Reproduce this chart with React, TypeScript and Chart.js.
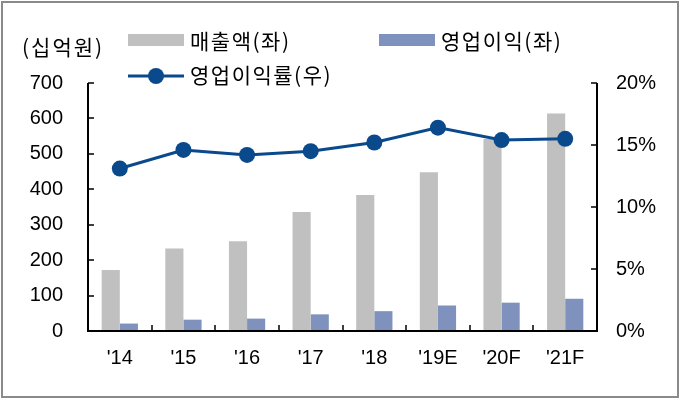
import React, { useEffect, useRef } from 'react';
import { Chart, registerables } from 'chart.js';

Chart.register(...registerables);

const categories = ["'14", "'15", "'16", "'17", "'18", "'19E", "'20F", "'21F"];
const salesValues = [172, 233, 253, 336, 384, 448, 542, 614];
const opProfitValues = [21, 32, 35, 47, 56, 72, 80, 91];
const opMarginValues = [13.1, 14.6, 14.2, 14.5, 15.2, 16.4, 15.4, 15.5];
const seriesLabels = ['매출액(좌)', '영업이익(좌)', '영업이익률(우)'];
const unitLabel = '(십억원)';
const leftAxisMax = 700;
const leftAxisStep = 100;
const rightAxisMax = 20;
const rightAxisStep = 5;

const GRAY = '#C0C0C0';
const BLUE = '#7F92BD';
const NAVY = '#0A4A8C';
const NUM_FONT = '"Liberation Sans Narrow", "Arial Narrow", "Liberation Sans", Arial, sans-serif';
const KR_FONT = '"Noto Sans CJK KR", "Noto Sans", sans-serif';

const decorPlugin = {
  id: 'decor',
  afterDraw(chart: any) {
    const ctx = chart.ctx;
    const { left, right, top, bottom } = chart.chartArea;
    const x = chart.scales.x;
    const y = chart.scales.y;
    const y1 = chart.scales.y1;
    ctx.save();
    ctx.strokeStyle = '#000';
    ctx.lineWidth = 2;
    ctx.beginPath();
    ctx.moveTo(left, top);
    ctx.lineTo(left, bottom);
    ctx.lineTo(right, bottom);
    ctx.lineTo(right, top);
    ctx.stroke();
    ctx.lineWidth = 1.5;
    ctx.beginPath();
    y.ticks.forEach((t: any) => {
      const py = Math.round(y.getPixelForValue(t.value));
      ctx.moveTo(left, py);
      ctx.lineTo(left + 6, py);
    });
    y1.ticks.forEach((t: any) => {
      const py = Math.round(y1.getPixelForValue(t.value));
      ctx.moveTo(right, py);
      ctx.lineTo(right - 6, py);
    });
    for (let i = 1; i < categories.length; i++) {
      const px = Math.round((x.getPixelForValue(i - 1) + x.getPixelForValue(i)) / 2);
      ctx.moveTo(px, bottom);
      ctx.lineTo(px, bottom - 6);
    }
    ctx.stroke();

    // unit label
    ctx.fillStyle = '#000';
    ctx.textBaseline = 'middle';
    ctx.textAlign = 'left';
    ctx.font = `21px ${KR_FONT}`;
    (ctx as any).letterSpacing = '2px';
    ctx.fillText(unitLabel, 22, 47);

    // legend
    const ds = chart.data.datasets;
    ctx.fillStyle = ds[0].backgroundColor;
    ctx.fillRect(128, 34, 56, 12);
    ctx.fillStyle = ds[1].backgroundColor;
    ctx.fillRect(379, 34, 56, 12);
    ctx.strokeStyle = ds[2].borderColor;
    ctx.lineWidth = 3;
    ctx.beginPath();
    ctx.moveTo(128, 76);
    ctx.lineTo(184, 76);
    ctx.stroke();
    ctx.fillStyle = ds[2].backgroundColor;
    ctx.beginPath();
    ctx.arc(156, 76, 8, 0, Math.PI * 2);
    ctx.fill();
    ctx.fillStyle = '#000';
    (ctx as any).letterSpacing = '1.5px';
    ctx.fillText(ds[0].label, 190, 41);
    ctx.fillText(ds[1].label, 441, 41);
    ctx.fillText(ds[2].label, 190, 75);
    (ctx as any).letterSpacing = '0px';

    // frame
    ctx.strokeStyle = '#8A8A8A';
    ctx.lineWidth = 2;
    ctx.strokeRect(2, 2, 676, 395);
    ctx.restore();
  },
};

export default function App() {
  const ref = useRef<HTMLCanvasElement>(null);
  useEffect(() => {
    if (!ref.current) return;
    const chart = new Chart(ref.current, {
      type: 'bar',
      data: {
        labels: categories,
        datasets: [
          {
            type: 'bar',
            label: seriesLabels[0],
            data: salesValues,
            backgroundColor: GRAY,
            yAxisID: 'y',
            order: 1,
            categoryPercentage: 0.57,
            barPercentage: 1,
          },
          {
            type: 'bar',
            label: seriesLabels[1],
            data: opProfitValues,
            backgroundColor: BLUE,
            yAxisID: 'y',
            order: 1,
            categoryPercentage: 0.57,
            barPercentage: 1,
          },
          {
            type: 'line',
            label: seriesLabels[2],
            data: opMarginValues,
            borderColor: NAVY,
            backgroundColor: NAVY,
            borderWidth: 3,
            pointRadius: 8,
            pointBackgroundColor: NAVY,
            pointBorderColor: NAVY,
            pointBorderWidth: 0,
            yAxisID: 'y1',
            order: 0,
            tension: 0,
          },
        ] as any,
      },
      options: {
        animation: false,
        responsive: false,
        maintainAspectRatio: false,
        layout: { padding: { top: 83, left: 0, right: 0, bottom: 0 } },
        plugins: { legend: { display: false }, tooltip: { enabled: false } },
        scales: {
          x: {
            grid: { display: false, drawTicks: false },
            border: { display: false },
            ticks: { color: '#000', font: { family: NUM_FONT, size: 20 }, padding: 15 },
            afterFit(s: any) { s.height = 68; },
          },
          y: {
            position: 'left',
            min: 0,
            max: leftAxisMax,
            grid: { display: false, drawTicks: false },
            border: { display: false },
            ticks: { stepSize: leftAxisStep, color: '#000', font: { family: NUM_FONT, size: 20 }, padding: 25 },
            afterFit(s: any) { s.width = 88; },
          },
          y1: {
            position: 'right',
            min: 0,
            max: rightAxisMax,
            grid: { display: false, drawTicks: false },
            border: { display: false },
            ticks: {
              stepSize: rightAxisStep,
              color: '#000',
              font: { family: NUM_FONT, size: 20 },
              padding: 19,
              callback: (v: any) => v + '%',
            },
            afterFit(s: any) { s.width = 83; },
          },
        },
      } as any,
      plugins: [decorPlugin],
    });
    return () => chart.destroy();
  }, []);
  return (
    <div style={{ position: 'absolute', left: 0, top: 0, width: 680, height: 399, background: '#fff' }}>
      <canvas ref={ref} width={680} height={399} style={{ display: 'block', width: 680, height: 399 }} />
    </div>
  );
}
